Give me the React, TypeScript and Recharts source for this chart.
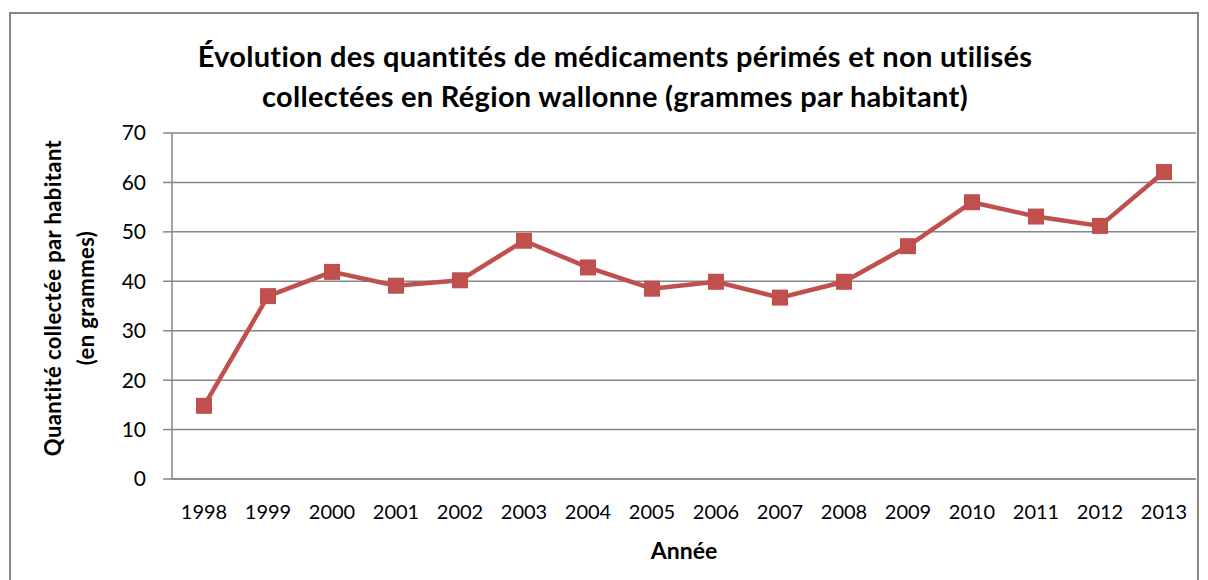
import { LineChart, Line, XAxis, YAxis, CartesianGrid } from 'recharts';

const years = ['1998', '1999', '2000', '2001', '2002', '2003', '2004', '2005', '2006', '2007', '2008', '2009', '2010', '2011', '2012', '2013'];
const grams = [14.8, 37.0, 41.9, 39.1, 40.2, 48.2, 42.8, 38.5, 39.9, 36.7, 39.9, 47.1, 56.0, 53.1, 51.2, 62.1];
const yTicks = [0, 10, 20, 30, 40, 50, 60, 70];

const titleLines = [
  'Évolution des quantités de médicaments périmés et non utilisés',
  'collectées en Région wallonne (grammes par habitant)',
];
const yLabelLines = ['Quantité collectée par habitant', '(en grammes)'];
const xLabel = 'Année';

const data = years.map((year, i) => ({ year, value: grams[i] }));

const FONT = 'Lato, "Open Sans", sans-serif';
const RED = '#C0504D';
const GREY = '#868686';

const SquareDot = (props: any) => {
  const { cx, cy } = props;
  if (cx == null || cy == null) return null;
  return <rect x={cx - 8} y={cy - 8} width={16} height={16} fill={RED} />;
};

const YLabel = (props: any) => {
  const { viewBox } = props;
  const cy = viewBox.y + viewBox.height / 2 - 8;
  return (
    <g>
      {yLabelLines.map((t, i) => {
        const x = 44 + i * 33;
        return (
          <text
            key={t}
            x={x}
            y={cy}
            transform={`rotate(-90 ${x} ${cy})`}
            textAnchor="middle"
            dominantBaseline="central"
            fontFamily={FONT}
            fontWeight={700}
            fontSize={22}
            letterSpacing={0.4}
            fill="#000"
          >
            {t}
          </text>
        );
      })}
    </g>
  );
};

export default function App() {
  return (
    <div style={{ position: 'relative', width: 1192, height: 572 }}>
      <div
        style={{
          position: 'absolute',
          left: 1,
          top: 4,
          width: 1190,
          height: 580,
          border: `2px solid ${GREY}`,
          boxSizing: 'border-box',
        }}
      />
      <div
        style={{
          position: 'absolute',
          left: 0,
          top: 28,
          width: 1214,
          textAlign: 'center',
          fontFamily: FONT,
          fontWeight: 700,
          fontSize: 29,
          letterSpacing: 0.3,
          lineHeight: '40px',
          color: '#000',
        }}
      >
        {titleLines.map((t) => (
          <div key={t}>{t}</div>
        ))}
      </div>
      <div style={{ position: 'absolute', left: 0, top: 0 }}>
        <LineChart width={1192} height={572} data={data} margin={{ top: 125, right: 4, bottom: 0, left: 0 }}>
          <CartesianGrid vertical={false} stroke={GREY} strokeWidth={1.5} />
          <XAxis
            dataKey="year"
            height={101}
            padding={{ left: 32, right: 32 }}
            axisLine={{ stroke: GREY, strokeWidth: 1.5 }}
            tickLine={false}
            tickSize={0}
            tickMargin={26}
            interval={0}
            tick={{ fill: '#000', fontSize: 20, fontFamily: FONT }}
            label={{
              value: xLabel,
              position: 'insideBottom',
              offset: 21,
              fill: '#000',
              fontSize: 23,
              fontWeight: 700,
              fontFamily: FONT,
            }}
          />
          <YAxis
            width={164}
            domain={[0, 70]}
            ticks={yTicks}
            interval={0}
            axisLine={{ stroke: GREY, strokeWidth: 1.5 }}
            tickLine={{ stroke: GREY, strokeWidth: 1.5 }}
            tickSize={9}
            tickMargin={17}
            tick={{ fill: '#000', fontSize: 21, fontFamily: FONT }}
            label={<YLabel />}
          />
          <Line
            type="linear"
            dataKey="value"
            stroke={RED}
            strokeWidth={4.5}
            dot={<SquareDot />}
            activeDot={false}
            isAnimationActive={false}
          />
        </LineChart>
      </div>
    </div>
  );
}
